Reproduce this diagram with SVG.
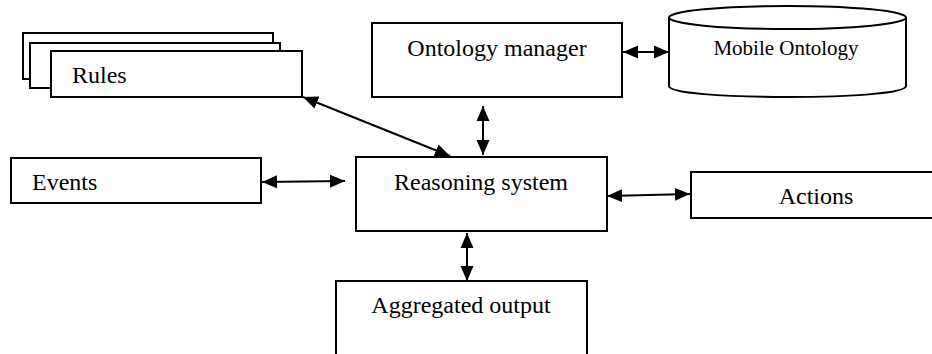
<svg xmlns="http://www.w3.org/2000/svg" width="932" height="354" viewBox="0 0 932 354">
<style>
.box{fill:#fff;stroke:#000;stroke-width:2}
.t{font-family:"Liberation Serif","Times New Roman",serif;font-size:24px;fill:#000}
.c{text-anchor:middle}
.conn{stroke:#000;stroke-width:2;fill:none;marker-start:url(#ah);marker-end:url(#ah)}
</style>
<defs>
<marker id="ah" markerUnits="userSpaceOnUse" markerWidth="16" markerHeight="14" refX="15" refY="7" orient="auto-start-reverse">
<path d="M0,0.5 L15,7 L0,13.5 z" fill="#000"/>
</marker>
</defs>
<rect width="932" height="354" fill="#fff"/>
<g id="rules">
<rect class="box" x="23" y="33" width="250" height="46"/>
<rect class="box" x="30" y="43" width="250" height="45"/>
<rect class="box" x="51" y="51" width="251" height="46"/>
<text class="t" x="72" y="83">Rules</text>
</g>
<g id="ontology-manager">
<rect class="box" x="372" y="23" width="250" height="74"/>
<text class="t c" x="497" y="56">Ontology manager</text>
</g>
<g id="mobile-ontology">
<path class="box" d="M669,17.5 L669,86 C669,93 722,97 787.5,97 C853,97 906,93 906,86 L906,17.5"/>
<ellipse class="box" cx="787.5" cy="17.5" rx="118.5" ry="11.5"/>
<text class="t c" x="786" y="55" style="font-size:21px">Mobile Ontology</text>
</g>
<g id="events">
<rect class="box" x="11" y="158" width="250" height="45"/>
<text class="t" x="32" y="190">Events</text>
</g>
<g id="reasoning-system">
<rect class="box" x="356" y="157" width="251" height="74"/>
<text class="t c" x="481" y="190">Reasoning system</text>
</g>
<g id="actions">
<rect class="box" x="691" y="172" width="250" height="46"/>
<text class="t c" x="816" y="204">Actions</text>
</g>
<g id="aggregated-output">
<rect class="box" x="336" y="281" width="251" height="80"/>
<text class="t c" x="461" y="313">Aggregated output</text>
</g>
<g id="connectors">
<line class="conn" x1="623" y1="52" x2="669" y2="52"/>
<line class="conn" x1="303" y1="97" x2="450" y2="156"/>
<line class="conn" x1="483" y1="106" x2="483" y2="155"/>
<line class="conn" x1="262" y1="182" x2="345" y2="181"/>
<line class="conn" x1="607" y1="196" x2="690" y2="194"/>
<line class="conn" x1="467" y1="233" x2="467" y2="281"/>
</g>
</svg>
